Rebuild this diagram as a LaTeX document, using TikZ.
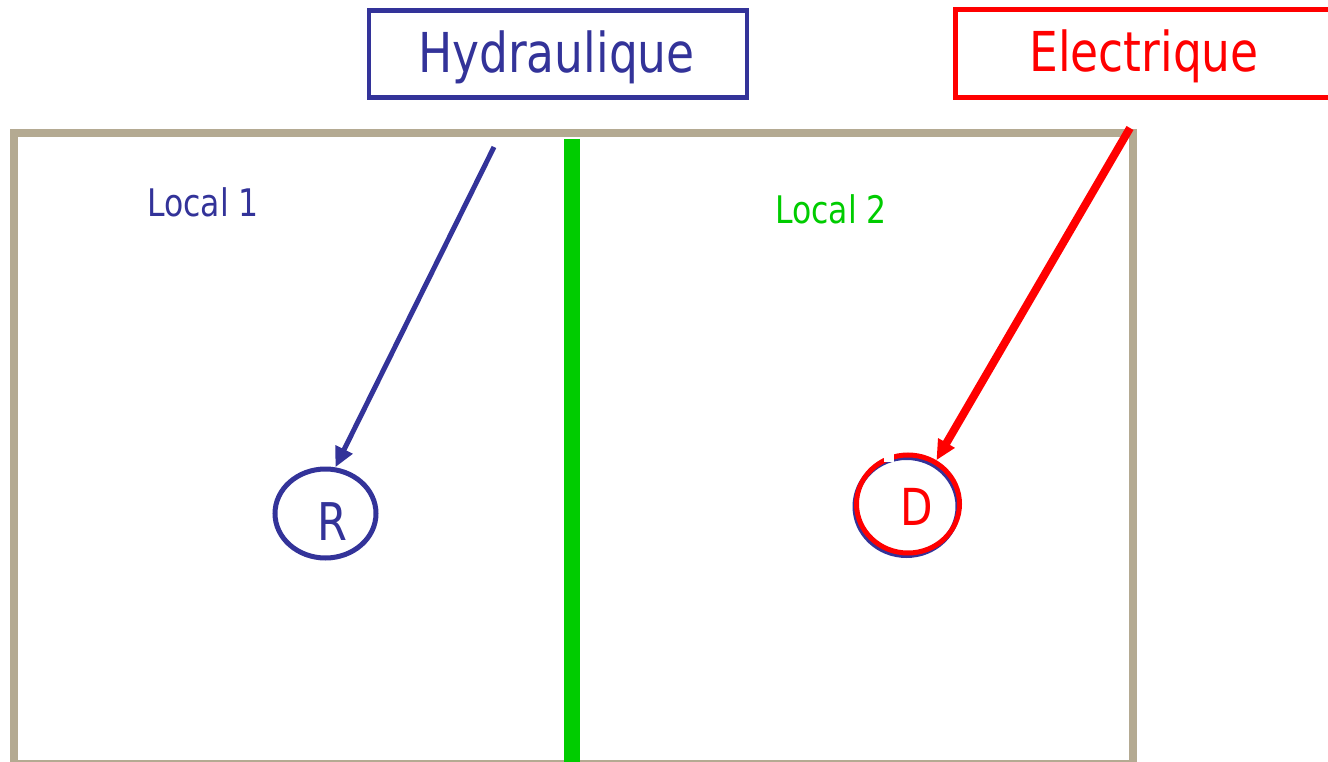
\documentclass[tikz,border=0pt]{standalone}
\usepackage{fontspec}
\setmainfont[FakeStretch=0.92]{DejaVu Sans Condensed}
\usetikzlibrary{shapes.geometric,arrows.meta}
\definecolor{hblue}{HTML}{333399}
\definecolor{ered}{HTML}{FF0000}
\definecolor{lgreen}{HTML}{00CC00}
\definecolor{tan}{HTML}{B4AA92}
\tikzset{
  bigtxt/.style={inner sep=0pt, font=\fontsize{55}{60}\selectfont, text height=40pt, text depth=0pt},
  loctxt/.style={inner sep=0pt, font=\fontsize{38}{42}\selectfont, text height=28pt, text depth=0pt},
  lettxt/.style={inner sep=0pt, font=\fontsize{52}{56}\selectfont, text height=38pt, text depth=0pt},
  titlebox/.style={draw, line width=4.5pt, inner sep=0pt, minimum height=87pt},
  ring/.style={draw, ellipse, line width=5pt, inner sep=0pt},
  arr/.style={-{Triangle[length=20pt,width=18pt]}}
}
\begin{document}
\begin{tikzpicture}[x=1pt,y=-1pt]
\useasboundingbox (0,0) rectangle (1328,762);
% room outline
\draw[tan, line width=8pt] (14,766) -- (14,133) -- (1133,133) -- (1133,766);
\draw[tan, line width=8pt] (14,764) -- (1133,764);
% wall
\draw[lgreen, line width=16pt] (572,139) -- (572,770);
% title boxes
\node[titlebox, hblue, minimum width=378pt] (hyd) at (558,54) {};
\node[bigtxt, text=hblue] (hydt) at (556.5,53) {Hydraulique};
\node[titlebox, ered, line width=5pt, minimum width=400pt, minimum height=88pt] (ele) at (1155.5,53.5) {};
\node[bigtxt, text=ered] (elet) at (1144,52) {Electrique};
% local labels
\node[loctxt, text=hblue] (l1) at (203,203) {Local 1};
\node[loctxt, text=lgreen] (l2) at (831,209.5) {Local 2};
% components
\node[ring, hblue, minimum width=101pt, minimum height=89pt] (R) at (325.5,513.5) {};
\node[lettxt, text=hblue] (Rt) at (332,521) {R};
\node[ring, hblue, minimum width=103pt, minimum height=98pt] (Dsh) at (906.5,506.5) {};
\node[ring, ered, minimum width=103pt, minimum height=98pt] (D) at (908,504) {};
\fill[white] (884,446) rectangle (894,462);
\node[lettxt, font=\fontsize{51}{55}\selectfont, text height=37pt, text=ered] (Dt) at (917,506.5) {D};
% arrows
\coordinate (hs) at (494,147);
\coordinate (es) at (1130,128);
\draw[arr, hblue, line width=5pt] (hs) -- (R.78);
\draw[arr, ered, line width=8pt] (es) -- (D.57);
\end{tikzpicture}
\end{document}
